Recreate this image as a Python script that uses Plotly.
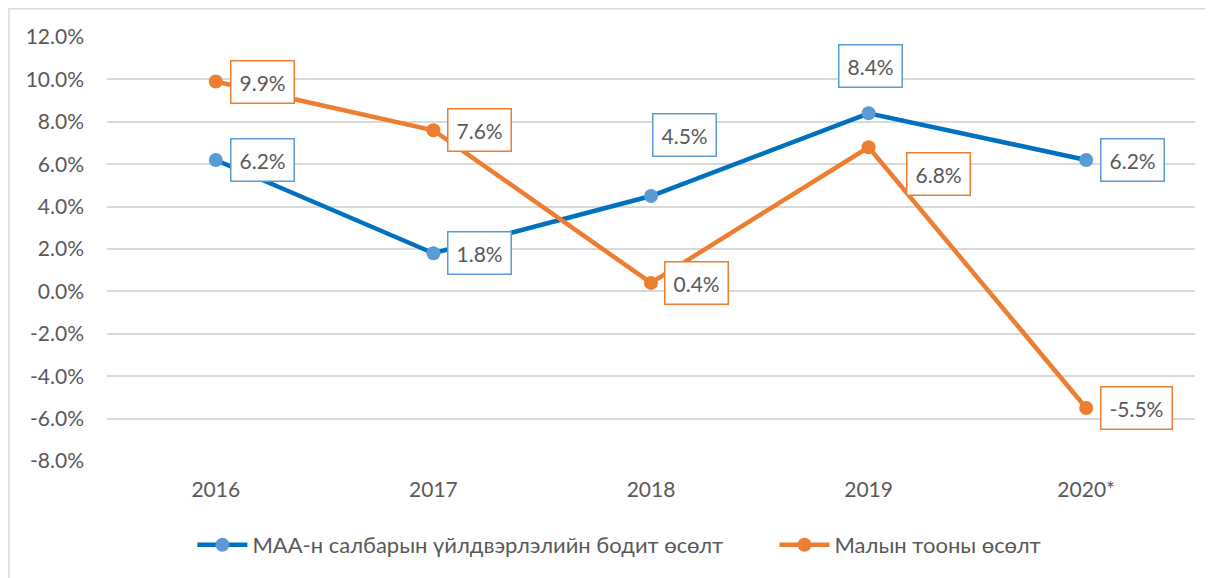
import plotly.graph_objects as go

categories = ["2016", "2017", "2018", "2019", "2020*"]
maa_growth = [6.2, 1.8, 4.5, 8.4, 6.2]
livestock_growth = [9.9, 7.6, 0.4, 6.8, -5.5]
maa_labels = ["6.2%", "1.8%", "4.5%", "8.4%", "6.2%"]
livestock_labels = ["9.9%", "7.6%", "0.4%", "6.8%", "-5.5%"]
y_tick_values = [12, 10, 8, 6, 4, 2, 0, -2, -4, -6, -8]
y_tick_labels = ["12.0%", "10.0%", "8.0%", "6.0%", "4.0%", "2.0%", "0.0%",
                 "-2.0%", "-4.0%", "-6.0%", "-8.0%"]
series_names = ["МАА-н салбарын үйлдвэрлэлийн бодит өсөлт", "Малын тооны өсөлт"]

FONT = "Lato, 'Open Sans', sans-serif"
TXT = "#595959"
BLUE_LINE, BLUE_MARK = "#0070C0", "#5B9BD5"
ORANGE = "#ED7D31"
GRID = "#D9D9D9"
FS = 21

fig = go.Figure()
fig.add_trace(go.Scatter(
    x=categories, y=maa_growth, name=series_names[0], mode="lines+markers",
    line=dict(color=BLUE_LINE, width=4.5),
    marker=dict(color=BLUE_MARK, size=14, line=dict(width=0)),
    legend="legend",
))
fig.add_trace(go.Scatter(
    x=categories, y=livestock_growth, name=series_names[1], mode="lines+markers",
    line=dict(color=ORANGE, width=4.5),
    marker=dict(color=ORANGE, size=14, line=dict(width=0)),
    legend="legend2",
))

# label placement (pixel offsets relative to point): (xanchor, xshift, yshift)
maa_place = [("left", 14, 0), ("left", 14, 0), ("left", 1, 61), ("center", 2, 47), ("left", 14, 0)]
liv_place = [("left", 14, 0), ("left", 14, 0), ("left", 13, 0), ("left", 37, -27), ("left", 14, 0)]

annotations = []
for vals, labs, place, col in [(maa_growth, maa_labels, maa_place, BLUE_MARK),
                               (livestock_growth, livestock_labels, liv_place, ORANGE)]:
    for i, (v, t, (xa, xs, ys)) in enumerate(zip(vals, labs, place)):
        annotations.append(dict(
            x=i, y=v, xref="x", yref="y", text=t, showarrow=False,
            xanchor=xa, yanchor="middle", xshift=xs, yshift=ys,
            font=dict(family=FONT, size=FS, color=TXT),
            bordercolor=col, borderwidth=1.5, borderpad=8, bgcolor="white",
        ))

legend_style = dict(orientation="h", xanchor="left", y=-0.198, yanchor="middle",
                    font=dict(family=FONT, size=22, color=TXT), itemwidth=50,
                    bgcolor="rgba(0,0,0,0)")

fig.update_layout(
    width=1205, height=570,
    margin=dict(l=99, r=18, t=29, b=117),
    paper_bgcolor="white", plot_bgcolor="white",
    font=dict(family=FONT, size=FS, color=TXT),
    showlegend=True,
    legend=dict(x=0.0785, **legend_style),
    legend2=dict(x=0.6135, **legend_style),
    annotations=annotations,
    shapes=[dict(type="rect", xref="paper", yref="paper",
                 x0=-0.0901, x1=1.2, y0=-0.4, y1=1.0666,
                 line=dict(color=GRID, width=1.5), layer="below")],
)
fig.update_xaxes(type="category", range=[-0.5, 4.5], showgrid=False, zeroline=False,
                 showline=False, ticks="", ticklabelstandoff=14,
                 tickfont=dict(family=FONT, size=FS, color=TXT))
fig.update_yaxes(range=[-8, 12], tickvals=y_tick_values, ticktext=y_tick_labels,
                 showgrid=True, gridcolor=GRID, gridwidth=1.5,
                 zeroline=True, zerolinecolor=GRID, zerolinewidth=1.5,
                 showline=False, ticks="", ticklabelstandoff=22,
                 tickfont=dict(family=FONT, size=FS, color=TXT))

fig.write_html("out.html")
